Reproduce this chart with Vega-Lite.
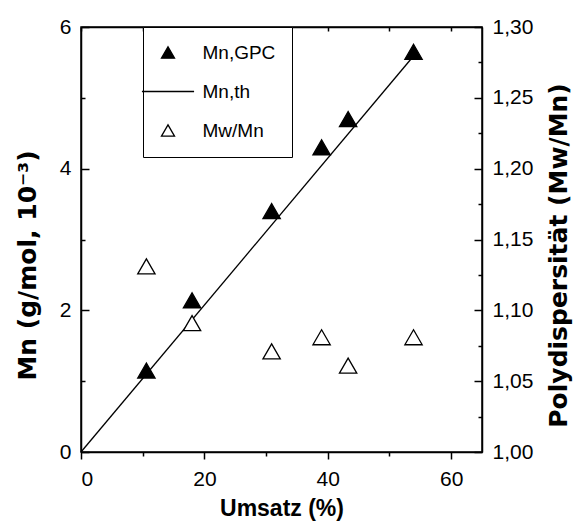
{
  "$schema": "https://vega.github.io/schema/vega-lite/v6.json",
  "width": 401,
  "height": 425,
  "autosize": "none",
  "padding": {"left": 81, "top": 27, "right": 92, "bottom": 71},
  "background": "white",
  "config": {
    "font": "Liberation Sans",
    "view": {"stroke": "black", "strokeWidth": 1.5},
    "axis": {
      "domainColor": "black", "tickColor": "black", "labelColor": "black", "titleColor": "black",
      "domainWidth": 1.5, "tickWidth": 1.5, "labelFontSize": 21, "titleFontSize": 23,
      "titleFontWeight": "bold", "grid": false, "labelFont": "Liberation Sans", "titleFont": "Liberation Sans"
    }
  },
  "data": {
    "values": [
      {"umsatz": 10.6, "value": 1.15, "series": "Mn,GPC"},
      {"umsatz": 18.0, "value": 2.14, "series": "Mn,GPC"},
      {"umsatz": 30.9, "value": 3.40, "series": "Mn,GPC"},
      {"umsatz": 39.0, "value": 4.30, "series": "Mn,GPC"},
      {"umsatz": 43.3, "value": 4.70, "series": "Mn,GPC"},
      {"umsatz": 53.9, "value": 5.65, "series": "Mn,GPC"},
      {"umsatz": 0, "value": 0, "series": "Mn,th"},
      {"umsatz": 53.7, "value": 5.57, "series": "Mn,th"},
      {"umsatz": 10.6, "value": 1.131, "series": "Mw/Mn"},
      {"umsatz": 18.0, "value": 1.091, "series": "Mw/Mn"},
      {"umsatz": 30.9, "value": 1.071, "series": "Mw/Mn"},
      {"umsatz": 39.0, "value": 1.081, "series": "Mw/Mn"},
      {"umsatz": 43.3, "value": 1.061, "series": "Mw/Mn"},
      {"umsatz": 53.9, "value": 1.081, "series": "Mw/Mn"}
    ]
  },
  "layer": [
    {
      "transform": [{"filter": "datum.series == 'Mn,GPC'"}],
      "mark": {"type": "point", "filled": true, "strokeWidth": 1.3, "size": 300, "opacity": 1},
      "encoding": {
        "x": {
          "field": "umsatz", "type": "quantitative",
          "scale": {"domain": [0, 65], "nice": false, "zero": false},
          "axis": {
            "orient": "bottom", "title": "Umsatz (%)", "values": [0, 10, 20, 30, 40, 50, 60],
            "labelExpr": "datum.value % 20 == 0 ? datum.label : ''",
            "tickSize": {"condition": {"test": "datum.value % 20 == 0", "value": 7}, "value": 4},
            "labelPadding": 9, "titlePadding": 8
          }
        },
        "y": {
          "field": "value", "type": "quantitative",
          "scale": {"domain": [0, 6], "nice": false, "zero": false},
          "axis": {
            "orient": "left", "title": "Mn (g/mol, 10⁻³)", "values": [0, 1, 2, 3, 4, 5, 6],
            "labelExpr": "datum.value % 2 == 0 ? datum.label : ''",
            "tickSize": {"condition": {"test": "datum.value % 2 == 0", "value": -8}, "value": -4},
            "labelPadding": 18,
            "titleFont": "DejaVu Sans", "titleFontSize": 25,
            "titleX": -54, "titleY": 238, "titleAngle": 270, "titleAlign": "center", "titleBaseline": "middle"
          }
        },
        "shape": {
          "field": "series", "type": "nominal",
          "scale": {"domain": ["Mn,GPC", "Mn,th", "Mw/Mn"], "range": ["triangle-up", "M-4,0L4,0", "triangle-up"]},
          "legend": {
            "title": null, "orient": "none", "legendX": 62, "legendY": 0,
            "strokeColor": "black", "fillColor": "white", "padding": 16,
            "labelFontSize": 19, "labelColor": "black", "labelOffset": 25,
            "symbolOffset": -0.5, "symbolSize": 170, "symbolStrokeWidth": 1.3,
            "rowPadding": 19
          }
        },
        "fill": {
          "field": "series", "type": "nominal",
          "scale": {"domain": ["Mn,GPC", "Mn,th", "Mw/Mn"], "range": ["black", "white", "white"]}
        },
        "stroke": {
          "field": "series", "type": "nominal",
          "scale": {"domain": ["Mn,GPC", "Mn,th", "Mw/Mn"], "range": ["black", "black", "black"]}
        }
      }
    },
    {
      "transform": [{"filter": "datum.series == 'Mn,th'"}],
      "mark": {"type": "line", "color": "black", "strokeWidth": 1.3},
      "encoding": {
        "x": {
          "field": "umsatz", "type": "quantitative",
          "scale": {"domain": [0, 65], "nice": false, "zero": false},
          "axis": {"orient": "top", "title": null, "values": [0, 10, 20, 30, 40, 50, 60], "labels": false, "tickSize": -4}
        },
        "y": {
          "field": "value", "type": "quantitative",
          "scale": {"domain": [0, 6], "nice": false, "zero": false},
          "axis": null
        }
      }
    },
    {
      "transform": [{"filter": "datum.series == 'Mw/Mn'"}],
      "mark": {"type": "point", "filled": true, "strokeWidth": 1.3, "size": 300, "opacity": 1},
      "encoding": {
        "x": {
          "field": "umsatz", "type": "quantitative",
          "scale": {"domain": [0, 65], "nice": false, "zero": false},
          "axis": null
        },
        "y": {
          "field": "value", "type": "quantitative",
          "scale": {"domain": [1, 1.3], "nice": false, "zero": false},
          "axis": {
            "orient": "right", "title": "Polydispersität (Mw/Mn)",
            "values": [1, 1.025, 1.05, 1.075, 1.1, 1.125, 1.15, 1.175, 1.2, 1.225, 1.25, 1.275, 1.3],
            "format": ".2f",
            "labelExpr": "round(datum.value * 1000) % 50 == 0 ? replace(datum.label, '.', ',') : ''",
            "tickSize": {"condition": {"test": "round(datum.value * 1000) % 50 == 0", "value": -8}, "value": -4},
            "labelPadding": 18,
            "titleFont": "DejaVu Sans", "titleFontSize": 25,
            "titleX": 76, "titleY": 228, "titleAngle": 270, "titleAlign": "center", "titleBaseline": "middle"
          }
        },
        "shape": {"field": "series", "type": "nominal"},
        "fill": {"field": "series", "type": "nominal"},
        "stroke": {"field": "series", "type": "nominal"}
      }
    }
  ],
  "resolve": {"scale": {"y": "independent"}, "axis": {"x": "independent", "y": "independent"}}
}
